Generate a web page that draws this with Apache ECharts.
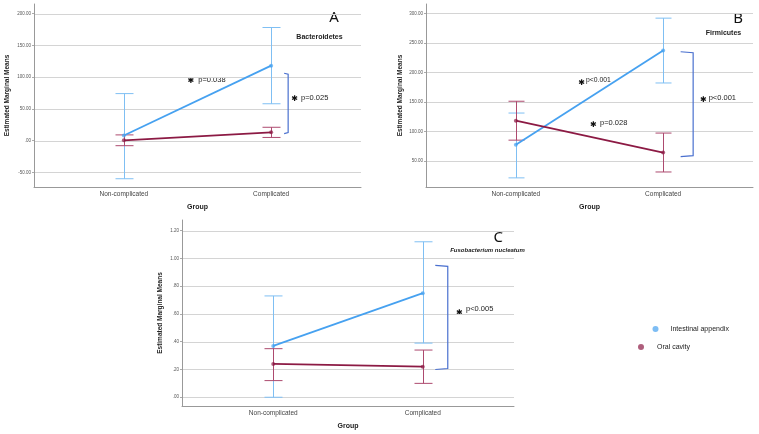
<!DOCTYPE html>
<html>
<head>
<meta charset="utf-8">
<script src="https://cdn.jsdelivr.net/npm/echarts@6/dist/echarts.min.js"></script>
<style>
  html, body { margin: 0; padding: 0; background: #fff; }
  #chart { width: 759px; height: 434px; }
</style>
</head>
<body>
<div id="chart"></div>
<script>
var categories = ['Non-complicated', 'Complicated'];

// A - Bacteroidetes
var ticksA = [-50, 0, 50, 100, 150, 200];
var bactAppendixMean = [8, 118];
var bactAppendixLow = [-60, 58];
var bactAppendixHigh = [74, 178];
var bactOralMean = [0.5, 13];
var bactOralLow = [-8, 5];
var bactOralHigh = [9, 21];
var bracketA = [106, 11];

// B - Firmicutes
var ticksB = [50, 100, 150, 200, 250, 300];
var firmAppendixMean = [77, 237];
var firmAppendixLow = [21, 182];
var firmAppendixHigh = [131, 292];
var firmOralMean = [118, 64];
var firmOralLow = [85, 31];
var firmOralHigh = [151, 97];
var bracketB = [235, 57];

// C - Fusobacterium nucleatum
var ticksC = [0, 0.2, 0.4, 0.6, 0.8, 1.0, 1.2];
var fusoAppendixMean = [0.37, 0.75];
var fusoAppendixLow = [0.00, 0.39];
var fusoAppendixHigh = [0.73, 1.12];
var fusoOralMean = [0.24, 0.22];
var fusoOralLow = [0.12, 0.10];
var fusoOralHigh = [0.35, 0.34];
var bracketC = [0.95, 0.20];

var BLUE = '#46a1f0', BLUE_BAR = '#7fbff3';
var RED = '#8c1a44', RED_BAR = '#ad4a6f';
var BRACKET = '#4a70cf';
var FONT = 'Liberation Sans';

function fmt(v) {
    return v.toFixed(2).replace(/^(-?)0\./, '$1.');
}

var panels = [
    {grid: {left: 34, top: 4, width: 327, height: 183}, min: -73, max: 215, ticks: ticksA,
     app: [bactAppendixMean, bactAppendixLow, bactAppendixHigh],
     oral: [bactOralMean, bactOralLow, bactOralHigh],
     bracket: bracketA, bOff: 17, bTick: 4, nameGap: 23, cap: 9},
    {grid: {left: 426, top: 4, width: 327, height: 183}, min: 5.5, max: 316, ticks: ticksB,
     app: [firmAppendixMean, firmAppendixLow, firmAppendixHigh],
     oral: [firmOralMean, firmOralLow, firmOralHigh],
     bracket: bracketB, bOff: 30, bTick: 12.5, nameGap: 22, cap: 8},
    {grid: {left: 182, top: 220, width: 332, height: 186}, min: -0.063, max: 1.277, ticks: ticksC,
     app: [fusoAppendixMean, fusoAppendixLow, fusoAppendixHigh],
     oral: [fusoOralMean, fusoOralLow, fusoOralHigh],
     bracket: bracketC, bOff: 25, bTick: 12.5, nameGap: 18, cap: 9}
];

function errorBars(idx, arr, color, cap) {
    return {
        type: 'custom', xAxisIndex: idx, yAxisIndex: idx, z: 3, silent: true,
        data: arr[0].map(function (m, i) { return [i, arr[1][i], arr[2][i]]; }),
        encode: {x: 0, y: [1, 2]},
        renderItem: function (params, api) {
            var lo = api.coord([api.value(0), api.value(1)]);
            var hi = api.coord([api.value(0), api.value(2)]);
            var x = Math.round(lo[0]) + 0.5;
            var st = {stroke: color, lineWidth: 1};
            return {type: 'group', children: [
                {type: 'line', shape: {x1: x, y1: lo[1], x2: x, y2: hi[1]}, style: st},
                {type: 'line', shape: {x1: x - cap, y1: lo[1], x2: x + cap, y2: lo[1]}, style: st},
                {type: 'line', shape: {x1: x - cap, y1: hi[1], x2: x + cap, y2: hi[1]}, style: st}
            ]};
        }
    };
}

function meanLine(idx, name, mean, color) {
    return {
        type: 'line', name: name, xAxisIndex: idx, yAxisIndex: idx, z: 4,
        data: mean.map(function (m, i) { return [i, m]; }),
        symbol: 'circle', symbolSize: 4, showSymbol: true,
        lineStyle: {color: color, width: 1.8},
        itemStyle: {color: color, opacity: 0.7},
        silent: true
    };
}

var grids = [], xAxes = [], yAxes = [], series = [];
panels.forEach(function (p, idx) {
    grids.push(p.grid);
    xAxes.push({
        gridIndex: idx, type: 'value', min: -0.61, max: 1.61,
        name: 'Group', nameLocation: 'middle', nameGap: 17,
        nameTextStyle: {fontFamily: FONT, fontSize: 7, fontWeight: 'bold', color: '#222'},
        axisLine: {onZero: false, lineStyle: {color: '#999', width: 1}},
        axisTick: {show: false},
        splitLine: {show: false},
        axisLabel: {customValues: [0, 1], margin: 4, fontFamily: FONT, fontSize: 6.5, color: '#444',
            formatter: function (v) { return categories[Math.round(v)]; }}
    });
    yAxes.push({
        gridIndex: idx, type: 'value', min: p.min, max: p.max,
        name: 'Estimated Marginal Means', nameLocation: 'middle', nameGap: p.nameGap,
        nameTextStyle: {fontFamily: FONT, fontSize: 6.5, fontWeight: 'bold', color: '#222'},
        axisLine: {show: true, onZero: false, lineStyle: {color: '#999', width: 1}},
        axisTick: {show: true, customValues: p.ticks, length: 2, lineStyle: {color: '#aaa'}},
        splitLine: {show: false},
        axisLabel: {customValues: p.ticks, margin: 3, fontFamily: FONT, fontSize: 4.5, color: '#555',
            formatter: function (v) { return fmt(v); }}
    });
    // grid lines at tick values
    series.push({
        type: 'custom', xAxisIndex: idx, yAxisIndex: idx, z: 1, silent: true,
        data: p.ticks.map(function (v) { return [0, v]; }),
        renderItem: function (params, api) {
            var y = Math.round(api.coord([0, api.value(1)])[1]) + 0.5;
            var cs = params.coordSys;
            return {type: 'line', shape: {x1: cs.x + 1, y1: y, x2: cs.x + cs.width, y2: y},
                style: {stroke: '#d4d4d4', lineWidth: 1}};
        }
    });
    series.push(errorBars(idx, p.app, BLUE_BAR, p.cap));
    series.push(errorBars(idx, p.oral, RED_BAR, p.cap));
    series.push(meanLine(idx, 'Intestinal appendix', p.app[0], BLUE));
    series.push(meanLine(idx, 'Oral cavity', p.oral[0], RED));
    // significance bracket
    series.push({
        type: 'custom', xAxisIndex: idx, yAxisIndex: idx, z: 5, silent: true,
        data: [[1, p.bracket[0], p.bracket[1]]],
        renderItem: function (params, api) {
            var top = api.coord([api.value(0), api.value(1)]);
            var bot = api.coord([api.value(0), api.value(2)]);
            var x = top[0] + p.bOff;
            return {type: 'polyline', shape: {points: [
                [x - p.bTick, top[1]], [x, top[1] + 1], [x, bot[1] - 1], [x - p.bTick, bot[1]]
            ]}, style: {stroke: BRACKET, lineWidth: 1.2, fill: null}};
        }
    });
});

function txt(text, x, y, size, opts) {
    opts = opts || {};
    return {type: 'text', silent: true, style: {
        text: text, x: x, y: y, align: opts.align || 'left', verticalAlign: 'middle',
        fontFamily: opts.family || FONT, fontSize: size,
        fontWeight: opts.weight || 'normal', fontStyle: opts.style || 'normal',
        fill: opts.fill || '#222'
    }};
}
var star = {align: 'center', family: 'DejaVu Sans', fill: '#111'};
var big = {align: 'center', family: 'Noto Sans', fill: '#111'};

var graphics = [
    txt('A', 334, 18, 15, big),
    txt('Bacteroidetes', 319.5, 36.7, 7, {align: 'center', weight: 'bold'}),
    txt('\u2731', 190.8, 80.7, 8, star),
    txt('p=0.038', 198.3, 79.7, 7.5),
    txt('\u2731', 294.7, 99, 8, star),
    txt('p=0.025', 301, 98, 7.5),
    txt('B', 738, 18.3, 15, big),
    txt('Firmicutes', 723.5, 32.7, 7, {align: 'center', weight: 'bold'}),
    txt('\u2731', 581.7, 82.7, 8, star),
    txt('p<0.001', 586, 79.7, 6.8),
    txt('\u2731', 593.3, 125.3, 8, star),
    txt('p=0.028', 600, 123.3, 7.5),
    txt('\u2731', 703.3, 100, 8, star),
    txt('p<0.001', 708.7, 98, 7.5),
    txt('C', 498.3, 237.7, 15, big),
    txt('Fusobacterium nucleatum', 487.5, 250, 6, {align: 'center', weight: 'bold', style: 'italic'}),
    txt('\u2731', 459.3, 312.7, 8, star),
    txt('p<0.005', 466, 309.3, 7.5)
];

var chart = echarts.init(document.getElementById('chart'));
chart.setOption({
    animation: false,
    backgroundColor: '#fff',
    grid: grids,
    xAxis: xAxes,
    yAxis: yAxes,
    legend: [
        {data: ['Intestinal appendix'], left: 652.5, top: 325.5, padding: 0, selectedMode: false,
         icon: 'circle', itemWidth: 6, itemHeight: 6,
         textStyle: {fontFamily: FONT, fontSize: 7, color: '#222', padding: [0, 0, 0, 7]}},
        {data: ['Oral cavity'], left: 638, top: 343.5, padding: 0, selectedMode: false,
         icon: 'circle', itemWidth: 6, itemHeight: 6,
         textStyle: {fontFamily: FONT, fontSize: 7, color: '#222', padding: [0, 0, 0, 8]}}
    ],
    graphic: graphics,
    series: series
});
</script>
</body>
</html>
